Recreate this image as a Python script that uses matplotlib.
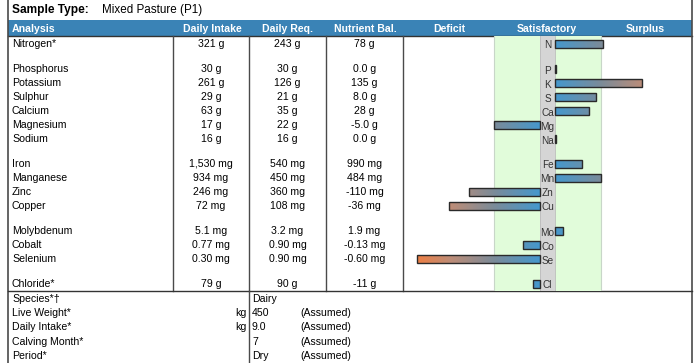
import numpy as np
import matplotlib
matplotlib.use("Agg")
import matplotlib.pyplot as plt
from matplotlib.colors import LinearSegmentedColormap
from matplotlib.patches import Rectangle

plt.rcParams['font.family'] = ['Liberation Sans', 'DejaVu Sans']

# ---------------- data ----------------
sample_type = "Mixed Pasture (P1)"
headers = ["Analysis", "Daily Intake", "Daily Req.", "Nutrient Bal.", "Deficit", "Satisfactory", "Surplus"]
nutrients = ["Nitrogen*", "Phosphorus", "Potassium", "Sulphur", "Calcium", "Magnesium", "Sodium",
             "Iron", "Manganese", "Zinc", "Copper", "Molybdenum", "Cobalt", "Selenium", "Chloride*"]
symbols = ["N", "P", "K", "S", "Ca", "Mg", "Na", "Fe", "Mn", "Zn", "Cu", "Mo", "Co", "Se", "Cl"]
group_sizes = [1, 6, 4, 3, 1]
daily_intake = ["321 g", "30 g", "261 g", "29 g", "63 g", "17 g", "16 g",
                "1,530 mg", "934 mg", "246 mg", "72 mg", "5.1 mg", "0.77 mg", "0.30 mg", "79 g"]
daily_req = ["243 g", "30 g", "126 g", "21 g", "35 g", "22 g", "16 g",
             "540 mg", "450 mg", "360 mg", "108 mg", "3.2 mg", "0.90 mg", "0.90 mg", "90 g"]
nutrient_bal = ["78 g", "0.0 g", "135 g", "8.0 g", "28 g", "-5.0 g", "0.0 g",
                "990 mg", "484 mg", "-110 mg", "-36 mg", "1.9 mg", "-0.13 mg", "-0.60 mg", "-11 g"]
# bar score: 1 unit = width of satisfactory zone on one side
bar_scores = [1.05, 0.015, 1.90, 0.90, 0.74, -1.01, 0.015,
              0.59, 1.01, -1.55, -1.99, 0.175, -0.37, -2.69, -0.15]

animal_labels = ["Species*\u2020", "Live Weight*", "Daily Intake*", "Calving Month*", "Period*"]
animal_units = ["", "kg", "kg", "", ""]
animal_values = ["Dairy", "450", "9.0", "7", "Dry"]
animal_notes = ["", "(Assumed)", "(Assumed)", "(Assumed)", "(Assumed)"]

# ---------------- layout ----------------
W, H = 695, 363
fig = plt.figure(figsize=(W / 100, H / 100), dpi=100)
ax = fig.add_axes([0, 0, 1, 1])
ax.set_xlim(0, W)
ax.set_ylim(H, 0)
ax.axis('off')

FS = 7.6
line_col = '#4a4a4a'
header_col = '#3a83b6'

x_left, x_right = 8, 692
col_edges = [173, 249, 326, 403]
col_centers = [211, 287.5, 364.5]
hdr_top, hdr_bot = 20, 36
table_bot = 291

# row positions
row_y = []
y = 44
for gi, n in enumerate(group_sizes):
    for k in range(n):
        row_y.append(y)
        y += 14
    y += 11
row_y = np.array(row_y)

# Sample type line
ax.text(12, 10, "Sample Type:", fontsize=8.6, fontweight='bold', va='center', ha='left')
ax.text(102, 10, sample_type, fontsize=8.4, va='center', ha='left')

# header band
ax.add_patch(Rectangle((x_left, hdr_top), x_right - x_left, hdr_bot - hdr_top,
                       facecolor=header_col, edgecolor='none', zorder=1))
ax.plot([x_left, x_right], [hdr_bot, hdr_bot], color='#333333', lw=1.0, zorder=2)
hdr_x = [12, 212, 288, 365, 449, 547, 645]
for i, (hx, ht) in enumerate(zip(hdr_x, headers)):
    ax.text(hx, (hdr_top + hdr_bot) / 2 + 0.5, ht, color='white', fontweight='bold', fontsize=FS,
            ha='left' if i == 0 else 'center', va='center', zorder=3)

# borders
ax.plot([x_left, x_left], [0, H], color=line_col, lw=1.2)
ax.plot([x_right, x_right], [0, H], color=line_col, lw=1.2)
for xe in col_edges:
    ax.plot([xe, xe], [hdr_bot, table_bot], color=line_col, lw=1.0)
ax.plot([x_left, x_right], [table_bot, table_bot], color='#333333', lw=1.0)
ax.plot([249, 249], [table_bot, H], color=line_col, lw=1.0)

# table text
for i, yy in enumerate(row_y):
    ax.text(12, yy, nutrients[i], fontsize=FS, ha='left', va='center')
    ax.text(col_centers[0], yy, daily_intake[i], fontsize=FS, ha='center', va='center')
    ax.text(col_centers[1], yy, daily_req[i], fontsize=FS, ha='center', va='center')
    ax.text(col_centers[2], yy, nutrient_bal[i], fontsize=FS, ha='center', va='center')

# animal section
for i in range(len(animal_labels)):
    yy = 299 + 14.2 * i
    ax.text(12, yy, animal_labels[i], fontsize=FS, ha='left', va='center')
    if animal_units[i]:
        ax.text(246, yy, animal_units[i], fontsize=FS, ha='right', va='center')
    ax.text(252, yy, animal_values[i], fontsize=FS, ha='left', va='center')
    if animal_notes[i]:
        ax.text(300, yy, animal_notes[i], fontsize=FS, ha='left', va='center')

# ---------------- bar chart ----------------
unit = 45.7
g = 7.5 / unit
cx0, cx1 = 403, 692
bx = fig.add_axes([cx0 / W, 1 - table_bot / H, (cx1 - cx0) / W, (table_bot - hdr_bot) / H])
half = (cx1 - cx0) / 2 / unit
bx.set_xlim(-half, half)
bx.set_ylim(table_bot, hdr_bot)
bx.axis('off')
bx.patch.set_alpha(0)

bx.axvspan(-(g + 1), g + 1, facecolor='#e1fcda', edgecolor='none', zorder=0)
for xv in (-(g + 1), g + 1):
    bx.axvline(xv, color='#c8d6c8', lw=0.8, zorder=0.5)
bx.axvspan(-g, g, facecolor='#d5d5d5', edgecolor='none', zorder=0.6)
bx.axvline(-g, color='#bbbbbb', lw=0.6, zorder=0.7)
bx.axvline(g, color='#bbbbbb', lw=0.6, zorder=0.7)

cmap = LinearSegmentedColormap.from_list(
    'bal', [(0.0, '#4598cd'), (1.0 / 2.7, '#7b8b99'), (1.95 / 2.7, '#bd8d78'), (1.0, '#ee7f44')])

bar_h = 8
for i, (yy, v) in enumerate(zip(row_y, bar_scores)):
    if v >= 0:
        a, b = g, g + v
    else:
        a, b = -g + v, -g
    xs = np.linspace(a, b, 200)
    t = np.clip((np.abs(xs) - g) / 2.7, 0, 1)
    img = cmap(t)[np.newaxis, :, :]
    bx.imshow(img, extent=[a, b, yy + bar_h / 2, yy - bar_h / 2], aspect='auto',
              interpolation='bilinear', zorder=2)
    bx.add_patch(Rectangle((a, yy - bar_h / 2), b - a, bar_h, facecolor='none',
                           edgecolor='#2a2a2a', lw=1.0, zorder=3))
    bx.text(0, yy + 1.5, symbols[i], fontsize=7.2, ha='center', va='center', color='#333333', zorder=4)

bx.set_xlim(-half, half)
bx.set_ylim(table_bot, hdr_bot)

fig.savefig("out.png", dpi=100)
